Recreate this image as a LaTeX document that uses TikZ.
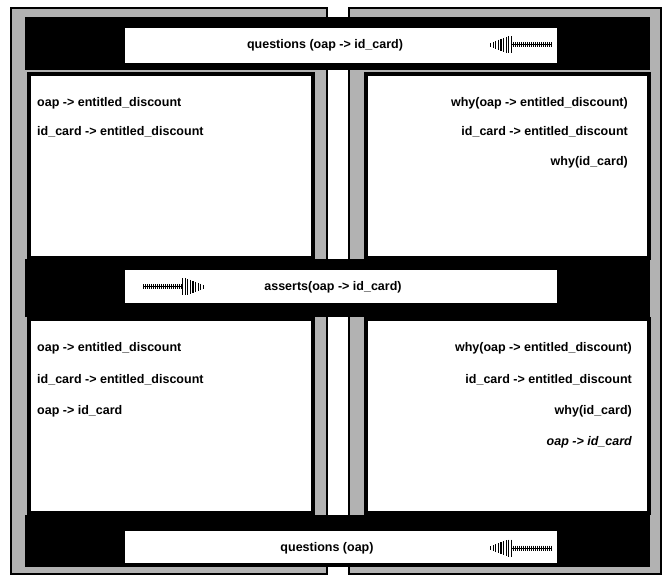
\documentclass[tikz,border=0pt]{standalone}
\usepackage{fontspec}
\setmainfont{Liberation Sans}
\begin{document}
\begin{tikzpicture}[x=1pt, y=-1pt,
    panel/.style={fill=black!30, draw=black, line width=1.2},
    band/.style={fill=black},
    content/.style={fill=white, draw=black, line width=3.5},
    msgbox/.style={fill=white},
    msg/.style={font=\fontsize{12.5}{14}\selectfont\bfseries, inner sep=0},
    fact/.style={font=\fontsize{12.5}{14}\selectfont\bfseries, inner sep=0, anchor=west},
    rfact/.style={font=\fontsize{12.5}{14}\selectfont\bfseries, inner sep=0, anchor=east},
    featherarrow/.pic={
        \draw[line width=1] (-64,0) -- (-25,0);
        \foreach \t in {-64,-62,...,-26} \draw[line width=0.8] (\t,-2.5) -- (\t,2.5);
        \foreach \h [count=\i] in {8.5,8.5,8,7,6,5,4,3,2} \draw[line width=1.3] (-27+\i*2.6,-\h) -- (-27+\i*2.6,\h);
    }]
    \useasboundingbox (0,0) rectangle (670,577);

    \draw[panel] (11,8) rectangle (327,574);
    \draw[panel] (349,8) rectangle (661,574);

    \fill[band] (25,17) rectangle (650,70);
    \fill[band] (25,259) rectangle (650,317);
    \fill[band] (25,515) rectangle (650,567);

    \draw[content] (29,74) rectangle (313,258);
    \draw[content] (366,74) rectangle (649,258);
    \draw[content] (29,319) rectangle (313,513);
    \draw[content] (366,319) rectangle (649,513);

    \fill[msgbox] (125,28) rectangle (557,63);
    \fill[msgbox] (125,270) rectangle (557,303);
    \fill[msgbox] (125,531) rectangle (557,563);

    \node[msg] (ask1) at (325,45) {questions (oap -> id\_card)};
    \node[msg] (tell) at (333,287) {asserts(oap -> id\_card)};
    \node[msg] (ask2) at (327,548) {questions (oap)};
    \pic[xscale=-1] at (487,45) {featherarrow};
    \pic at (207,287) {featherarrow};
    \pic[xscale=-1] at (487,548) {featherarrow};

    \node[fact] (ul1) at (37,103) {oap -> entitled\_discount};
    \node[fact] (ul2) at (37,132) {id\_card -> entitled\_discount};

    \node[rfact] (ur1) at (628,103) {why(oap -> entitled\_discount)};
    \node[rfact] (ur2) at (628,132) {id\_card -> entitled\_discount};
    \node[rfact] (ur3) at (628,162) {why(id\_card)};

    \node[fact] (ll1) at (37,348) {oap -> entitled\_discount};
    \node[fact] (ll2) at (37,380) {id\_card -> entitled\_discount};
    \node[fact] (ll3) at (37,411) {oap -> id\_card};

    \node[rfact] (lr1) at (632,348) {why(oap -> entitled\_discount)};
    \node[rfact] (lr2) at (632,380) {id\_card -> entitled\_discount};
    \node[rfact] (lr3) at (632,411) {why(id\_card)};
    \node[rfact, font=\fontsize{12.5}{14}\selectfont\bfseries\itshape] (lr4) at (632,442) {oap -> id\_card};
\end{tikzpicture}
\end{document}
